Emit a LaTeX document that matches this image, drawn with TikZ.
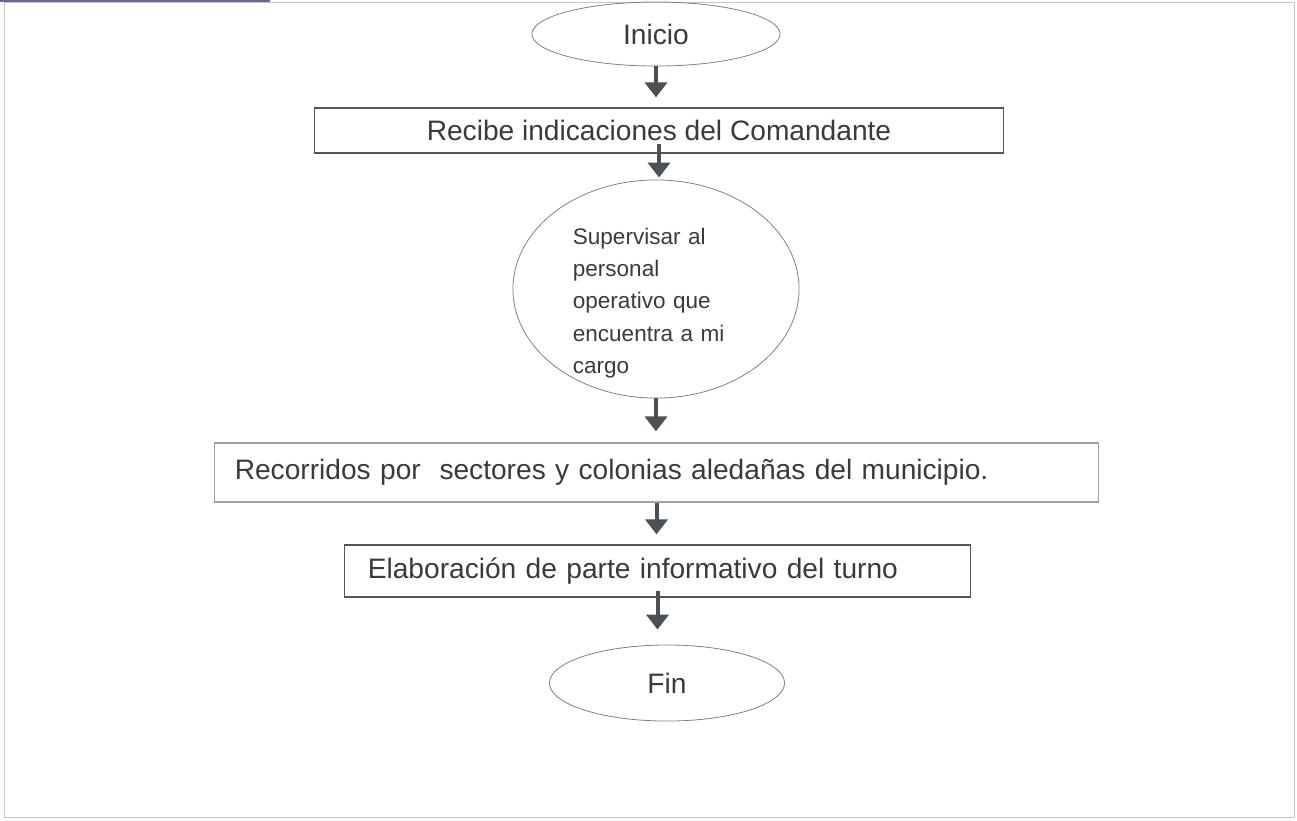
\documentclass[tikz,border=0pt]{standalone}
\usepackage{fontspec}
\setmainfont{Liberation Sans}
\usetikzlibrary{arrows.meta,shapes.geometric}
\definecolor{trazo}{HTML}{555555}
\definecolor{flechagris}{HTML}{4A5157}
\definecolor{texto}{HTML}{3A3A3A}
\begin{document}
\begin{tikzpicture}[x=0.01cm, y=-0.01cm,
  caja/.style={draw=trazo, line width=0.012cm, rectangle, inner ysep=0pt, text=texto, font=\fontsize{8}{9.6}\selectfont},
  ovalo/.style={draw=trazo!75, line width=0.008cm, ellipse, inner sep=0pt, text=texto, font=\fontsize{8}{9.6}\selectfont},
  flecha/.style={-{Triangle[width=0.22cm, length=0.15cm]}, line width=0.04cm, flechagris}]

  % marco de la hoja
  \useasboundingbox (0,0) rectangle (1297,820);
  \draw[gray!45, line width=0.01cm] (4,2) rectangle (1294,817);
  \draw[gray!80!blue, line width=0.02cm] (0,1) -- (270,1);

  % nodos del diagrama
  \node[ovalo, minimum width=2.48cm, minimum height=0.64cm] (inicio) at (656,34) {Inicio};
  \node[caja, minimum width=6.88cm, minimum height=0.45cm] (recibe) at (659,130.5) {Recibe indicaciones del Comandante};
  \node[ovalo, minimum width=2.86cm, minimum height=2.18cm] (supervisar) at (656,289) {};
  \node[align=left, text width=1.8cm, inner sep=0pt, text=texto, font=\fontsize{6.4}{9.2}\selectfont] (supervisartxt) at (663,303)
    {Supervisar al\\personal\\operativo que\\encuentra a mi\\cargo};
  \node[caja, draw=trazo!55, text width=8.43cm, align=left, inner xsep=0.2cm, minimum height=0.59cm] (recorridos) at (656.5,472.5)
    {Recorridos por\ \ sectores y colonias aledañas del municipio.};
  \node[caja, text width=5.79cm, align=left, inner xsep=0.23cm, minimum height=0.52cm] (elaboracion) at (657.5,571)
    {Elaboración de parte informativo del turno};
  \node[ovalo, minimum width=2.35cm, minimum height=0.76cm] (fin) at (667,683) {Fin};

  % flechas
  \draw[flecha, shorten >=0.1cm] (inicio.south) -- (inicio.south |- recibe.north);
  \draw[flecha, shorten <=-0.1cm, shorten >=0.02cm] (recibe.south) -- (recibe.south |- supervisar.north);
  \draw[flecha, shorten >=0.11cm] (supervisar.south) -- (supervisar.south |- recorridos.north);
  \draw[flecha, shorten >=0.1cm] (recorridos.south) -- (recorridos.south |- elaboracion.north);
  \draw[flecha, shorten <=-0.07cm, shorten >=0.15cm] (elaboracion.south) -- (elaboracion.south |- fin.north);

\end{tikzpicture}
\end{document}
